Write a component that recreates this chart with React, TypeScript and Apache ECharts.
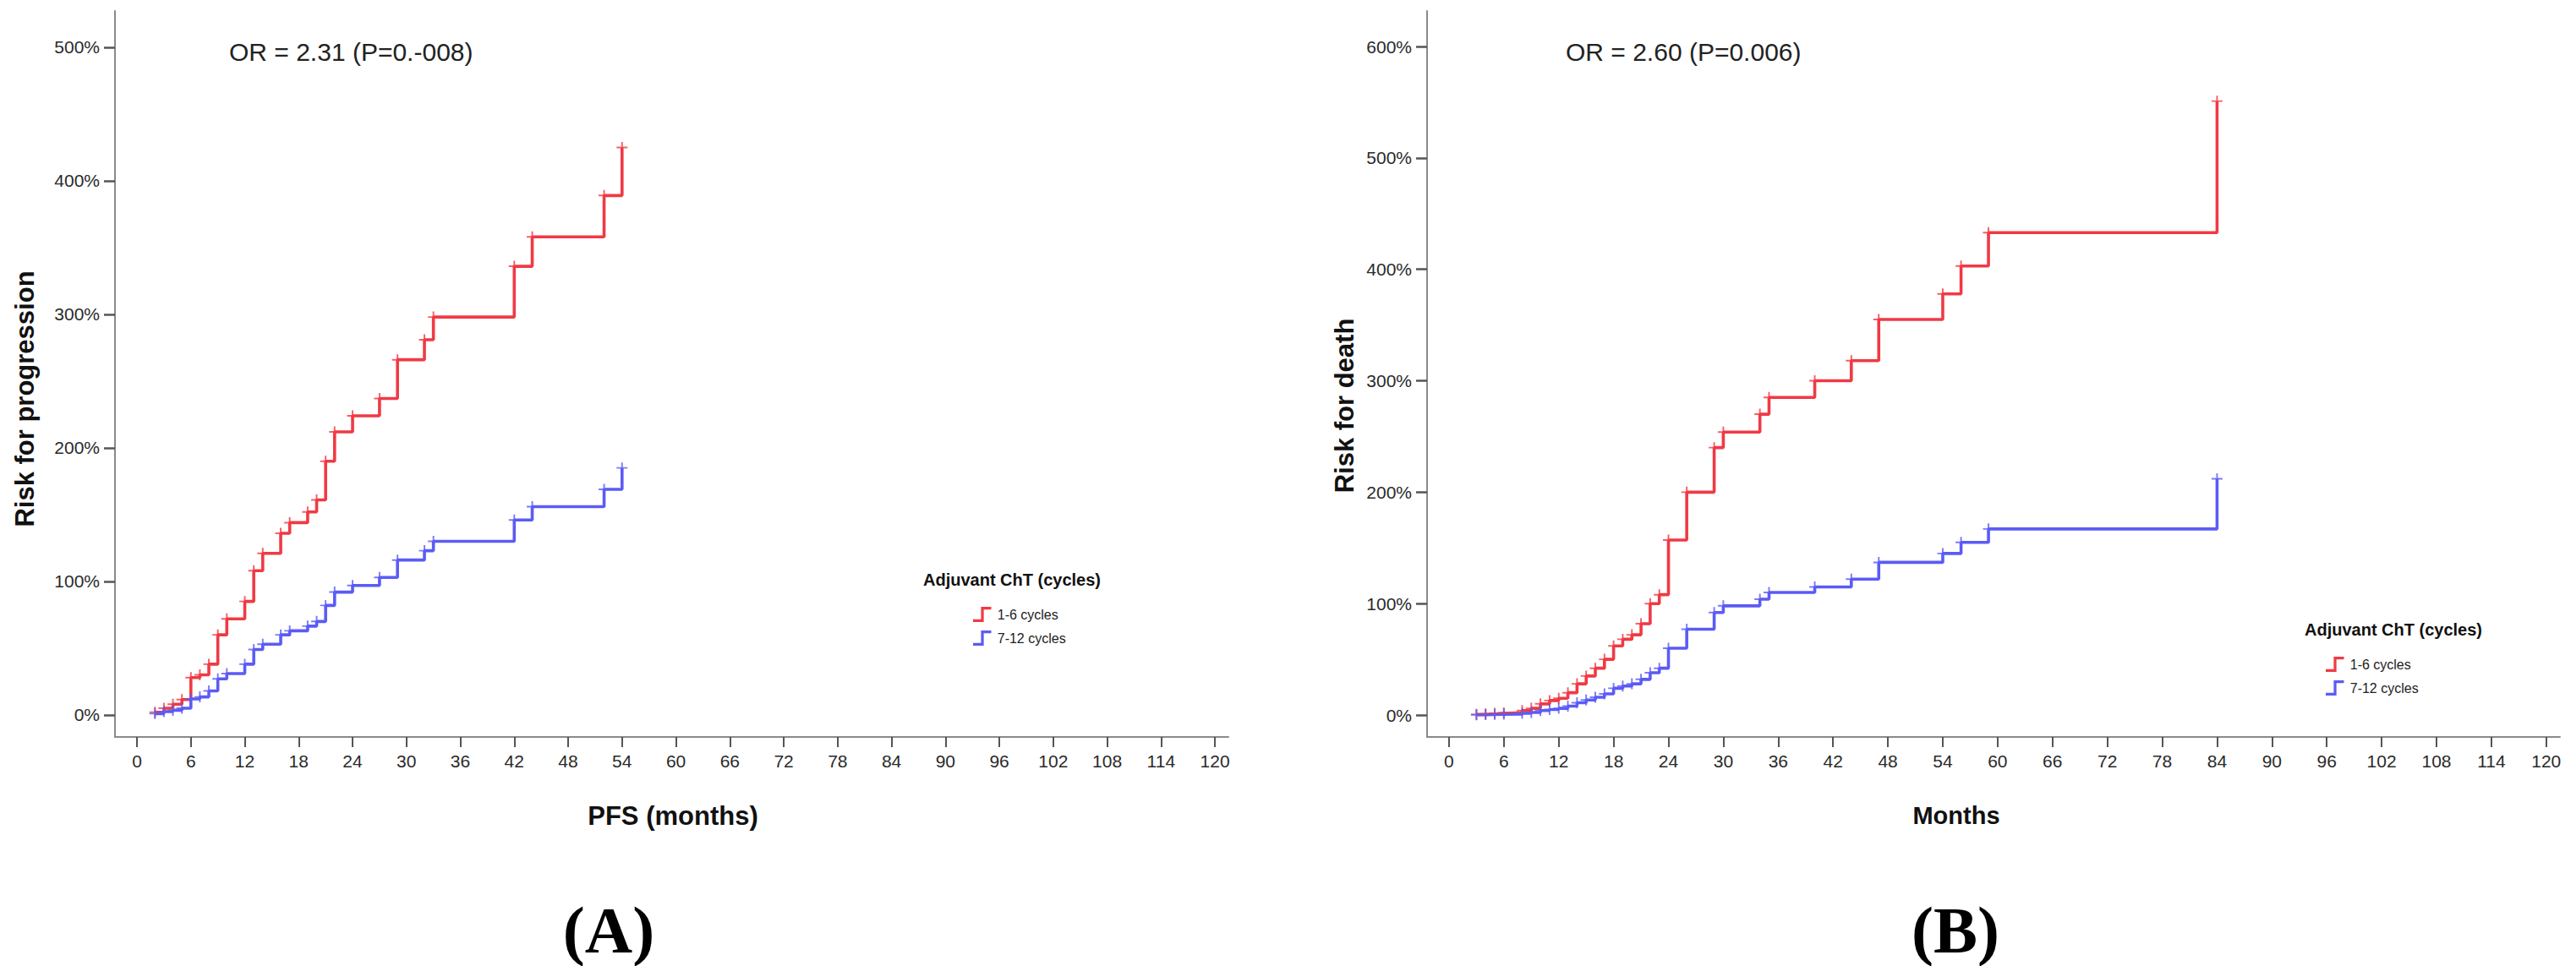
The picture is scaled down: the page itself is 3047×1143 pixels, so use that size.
import React, { useEffect, useRef } from "react";
import * as echarts from "echarts";

// ---------- data ----------
// Panel A: PFS (months) vs cumulative risk for progression (%)
const redA_t = [2, 3, 4, 5, 6, 7, 8, 9, 10, 12, 13, 14, 16, 17, 19, 20, 21, 22, 24, 27, 29, 32, 33, 42, 44, 52, 54];
const redA_v = [2, 5, 8, 11.5, 28, 30, 38, 60, 72, 85, 108, 121, 136, 144, 152, 161, 190, 212, 224, 237, 266, 281, 298, 336, 358, 389, 425];
const blueA_t = [2, 3, 4, 5, 6, 7, 8, 9, 10, 12, 13, 14, 16, 17, 19, 20, 21, 22, 24, 27, 29, 32, 33, 42, 44, 52, 54];
const blueA_v = [1, 2.5, 3.5, 5, 12, 13.5, 18, 27, 31, 38, 49, 53, 60, 63, 66.5, 70, 82, 92, 97, 103, 116, 123, 130, 146, 156, 169, 185];

// Panel B: Months vs cumulative risk for death (%)
const redB_t = [3, 4, 5, 6, 8, 9, 10, 11, 12, 13, 14, 15, 16, 17, 18, 19, 20, 21, 22, 23, 24, 26, 29, 30, 34, 35, 40, 44, 47, 54, 56, 59, 84];
const redB_v = [0.5, 1, 1.5, 2, 4, 6, 10, 13, 15, 20, 28, 35, 42, 50, 62, 68, 72, 82, 100, 108, 157, 200, 240, 254, 270, 285, 300, 318, 355, 378, 403, 433, 551];
const blueB_t = [3, 4, 5, 6, 8, 9, 10, 11, 12, 13, 14, 15, 16, 17, 18, 19, 20, 21, 22, 23, 24, 26, 29, 30, 34, 35, 40, 44, 47, 54, 56, 59, 84];
const blueB_v = [0.2, 0.4, 0.6, 0.8, 1.5, 2.3, 4, 5, 6, 8, 11, 13.5, 16, 19, 24, 26, 28, 32, 38, 42, 60, 77, 92, 98, 104, 110, 115, 122, 137, 145, 155, 167, 212];

const xTicks = [0, 6, 12, 18, 24, 30, 36, 42, 48, 54, 60, 66, 72, 78, 84, 90, 96, 102, 108, 114, 120];
const yTicksA = [0, 100, 200, 300, 400, 500];
const yTicksB = [0, 100, 200, 300, 400, 500, 600];

const groupNames = ["1-6 cycles", "7-12 cycles"];
const legendTitle = "Adjuvant ChT (cycles)";
const orTextA = "OR = 2.31 (P=0.-008)";
const orTextB = "OR = 2.60 (P=0.006)";

const RED = "#f03a44";
const BLUE = "#5b5bf6";
const FONT = "Liberation Sans, Arial, sans-serif";

const zip = (t: number[], v: number[]) => t.map((x, i) => [x, v[i]]);

const PLUS = "path://M6.8,0h2.4v16h-2.4zM0,6.8h16v2.4h-16z";
const STEP_ICON = "path://M0,11 L7,11 L7,0 L16,0 L16,2.4 L9.4,2.4 L9.4,13.4 L0,13.4 Z";

function axisX(gridIndex: number, min: number, max: number) {
  return {
    type: "value",
    gridIndex,
    min,
    max,
    axisLine: { show: true, onZero: false, lineStyle: { color: "#8a8a8a", width: 2 } },
    axisTick: { show: true, length: 12, customValues: xTicks, lineStyle: { color: "#555", width: 2 } },
    axisLabel: { show: true, customValues: xTicks, margin: 18, color: "#2a2a2a", fontSize: 21, fontFamily: FONT },
    splitLine: { show: false },
  };
}
function axisY(gridIndex: number, min: number, max: number, ticks: number[]) {
  return {
    type: "value",
    gridIndex,
    min,
    max,
    axisLine: { show: true, onZero: false, lineStyle: { color: "#8a8a8a", width: 2 } },
    axisTick: { show: true, length: 13, customValues: ticks, lineStyle: { color: "#555", width: 2.5 } },
    axisLabel: {
      show: true,
      customValues: ticks,
      margin: 18,
      color: "#2a2a2a",
      fontSize: 21,
      fontFamily: FONT,
      formatter: (v: number) => `${v}%`,
    },
    splitLine: { show: false },
  };
}

function stepSeries(name: string, color: string, data: number[][], xi: number) {
  return [
    {
      name,
      type: "line",
      step: "end",
      xAxisIndex: xi,
      yAxisIndex: xi,
      data,
      showSymbol: false,
      lineStyle: { color, width: 3.6 },
      itemStyle: { color },
      z: 3,
    },
    {
      name,
      type: "scatter",
      xAxisIndex: xi,
      yAxisIndex: xi,
      data,
      symbol: PLUS,
      symbolSize: [13, 13],
      itemStyle: { color },
      z: 4,
    },
  ];
}

function legendAt(left: number, top: number) {
  return {
    orient: "vertical",
    left,
    top,
    itemWidth: 26,
    itemHeight: 18,
    itemGap: 10,
    selectedMode: false,
    textStyle: { fontSize: 16, fontFamily: FONT, color: "#222" },
    data: [
      { name: groupNames[0], icon: STEP_ICON, itemStyle: { color: RED } },
      { name: groupNames[1], icon: STEP_ICON, itemStyle: { color: BLUE } },
    ],
  };
}

export default function App() {
  const ref = useRef<HTMLDivElement>(null);
  useEffect(() => {
    document.body.style.margin = "0";
    if (!ref.current) return;
    const chart = echarts.init(ref.current, undefined, { renderer: "svg" });
    const option = {
      animation: false,
      backgroundColor: "#ffffff",
      grid: [
        { left: 136, top: 13, width: 1317, height: 859 },
        { left: 1688, top: 13, width: 1340, height: 859 },
      ],
      xAxis: [axisX(0, -2.45, 121.5), axisX(1, -2.4, 121.5)],
      yAxis: [axisY(0, -16.5, 527.2, yTicksA), axisY(1, -19.7, 631.9, yTicksB)],
      legend: [legendAt(1146, 713), legendAt(2746, 772)],
      series: [
        ...stepSeries(groupNames[0], RED, zip(redA_t, redA_v), 0),
        ...stepSeries(groupNames[1], BLUE, zip(blueA_t, blueA_v), 0),
        ...stepSeries(groupNames[0], RED, zip(redB_t, redB_v), 1),
        ...stepSeries(groupNames[1], BLUE, zip(blueB_t, blueB_v), 1),
      ],
      graphic: [
        { type: "text", x: 271, y: 61, style: { text: orTextA, font: `30px ${FONT}`, fill: "#222", verticalAlign: "middle" } },
        { type: "text", x: 1852, y: 61, style: { text: orTextB, font: `30px ${FONT}`, fill: "#222", verticalAlign: "middle" } },
        { type: "text", x: 29, y: 472, rotation: Math.PI / 2, style: { text: "Risk for progression", font: `bold 31px ${FONT}`, fill: "#111", align: "center", verticalAlign: "middle" } },
        { type: "text", x: 1590, y: 480, rotation: Math.PI / 2, style: { text: "Risk for death", font: `bold 31px ${FONT}`, fill: "#111", align: "center", verticalAlign: "middle" } },
        { type: "text", x: 796, y: 965, style: { text: "PFS (months)", font: `bold 31px ${FONT}`, fill: "#111", align: "center", verticalAlign: "middle" } },
        { type: "text", x: 2314, y: 965, style: { text: "Months", font: `bold 29px ${FONT}`, fill: "#111", align: "center", verticalAlign: "middle" } },
        { type: "text", x: 1197, y: 686, style: { text: legendTitle, font: `bold 20px ${FONT}`, fill: "#111", align: "center", verticalAlign: "middle" } },
        { type: "text", x: 2831, y: 745, style: { text: legendTitle, font: `bold 20px ${FONT}`, fill: "#111", align: "center", verticalAlign: "middle" } },
        { type: "text", x: 720, y: 1100, style: { text: "(A)", font: `bold 78px Liberation Serif, Times New Roman, serif`, fill: "#000", align: "center", verticalAlign: "middle" } },
        { type: "text", x: 2313, y: 1100, style: { text: "(B)", font: `bold 78px Liberation Serif, Times New Roman, serif`, fill: "#000", align: "center", verticalAlign: "middle" } },
      ],
    };
    chart.setOption(option as any);
    return () => chart.dispose();
  }, []);
  return <div ref={ref} style={{ width: 3047, height: 1143 }} />;
}
